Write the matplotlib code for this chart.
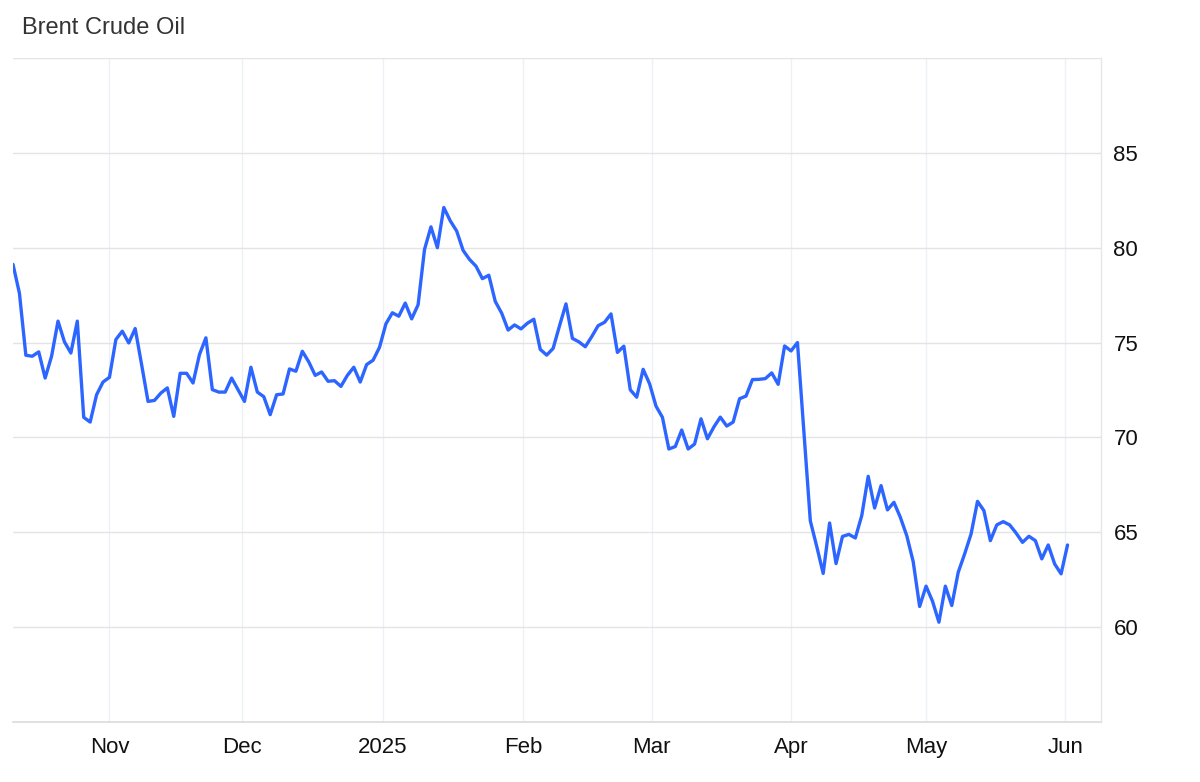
import numpy as np
import pandas as pd
import matplotlib
matplotlib.use("Agg")
import matplotlib.pyplot as plt

# ---- data ----
title = "Brent Crude Oil"
start_date = "2024-10-11"
end_date = "2025-06-02"
closed_days = ["2025-01-01", "2025-04-18"]

prices = [
    79.12, 77.60, 74.33, 74.28, 74.51, 73.13, 74.28, 76.13, 75.04, 74.45,
    76.13, 71.06, 70.81, 72.25, 72.92, 73.17, 75.16, 75.60, 74.98, 75.74,
    73.84, 71.90, 71.95, 72.34, 72.61, 71.11, 73.38, 73.38, 72.87, 74.37,
    75.25, 72.52, 72.39, 72.39, 73.13, 72.52, 71.90, 73.70, 72.39, 72.15,
    71.20, 72.25, 72.29, 73.61, 73.49, 74.54, 73.98, 73.27, 73.45, 72.96,
    72.99, 72.69, 73.27, 73.70, 72.92, 73.84, 74.07, 74.75, 75.99, 76.57,
    76.39, 77.08, 76.25, 76.99, 79.91, 81.10, 80.00, 82.12, 81.42, 80.88,
    79.86, 79.38, 79.03, 78.37, 78.55, 77.17, 76.55, 75.66, 75.93, 75.72,
    76.02, 76.23, 74.64, 74.34, 74.69, 75.89, 77.04, 75.22, 75.04, 74.78,
    75.31, 75.89, 76.07, 76.51, 74.48, 74.81, 72.51, 72.12, 73.59, 72.83,
    71.65, 71.06, 69.39, 69.52, 70.39, 69.39, 69.65, 70.98, 69.93, 70.55,
    71.07, 70.60, 70.81, 72.04, 72.18, 73.05, 73.06, 73.10, 73.40, 72.80,
    74.82, 74.56, 75.00, 70.30, 65.60, 64.25, 62.83, 65.49, 63.35, 64.78,
    64.89, 64.70, 65.88, 67.95, 66.28, 67.46, 66.18, 66.58, 65.79, 64.82,
    63.45, 61.09, 62.16, 61.37, 60.26, 62.16, 61.14, 62.89, 63.86, 64.91,
    66.63, 66.14, 64.56, 65.39, 65.56, 65.39, 64.96, 64.47, 64.79, 64.56,
    63.60, 64.33, 63.33, 62.81, 64.33,
]

month_labels = ["Nov", "Dec", "2025", "Feb", "Mar", "Apr", "May", "Jun"]
y_ticks = [55, 60, 65, 70, 75, 80, 85, 90]
y_labels = ["", "60", "65", "70", "75", "80", "85", ""]

# ---- dates / positions ----
dates = pd.bdate_range(start_date, end_date)
dates = dates[~dates.isin(pd.to_datetime(closed_days))]
dates = dates[: len(prices)]
x = np.arange(len(prices))

day_num = dates.values.astype("datetime64[D]").astype(float)
month_starts = pd.date_range("2024-11-01", periods=len(month_labels), freq="MS")
ms_num = month_starts.values.astype("datetime64[D]").astype(float)
tick_pos = np.interp(ms_num, day_num, x)

# ---- figure ----
W, H = 1200, 782
fig = plt.figure(figsize=(W / 100, H / 100), dpi=100)
fig.patch.set_facecolor("white")
left, right, top, bottom = 13, 1101, 58, 722
ax = fig.add_axes([left / W, 1 - bottom / H, (right - left) / W, (bottom - top) / H])

ax.plot(x, prices, color="#2c65ff", lw=2.4, solid_joinstyle="round",
        solid_capstyle="round", zorder=3)

ax.set_xlim(0, (right - left) / 6.43)
ax.set_ylim(55, 90)

ax.yaxis.tick_right()
ax.set_yticks(y_ticks)
ax.set_yticklabels(y_labels)
ax.set_xticks(tick_pos)
ax.set_xticklabels(month_labels)

for lab in ax.get_xticklabels() + ax.get_yticklabels():
    lab.set_fontfamily("Liberation Sans")
ax.tick_params(axis="both", length=0, labelsize=16, colors="#111111")
ax.tick_params(axis="y", pad=9)
ax.tick_params(axis="x", pad=11)

ax.grid(axis="y", color="#e4e4e4", lw=1.0, zorder=0)
ax.grid(axis="x", color="#edf0f5", lw=1.0, zorder=0)

for s in ["left", "top"]:
    ax.spines[s].set_visible(False)
ax.spines["right"].set_color("#e4e6ea")
ax.spines["bottom"].set_color("#dcdcdc")
ax.spines["right"].set_linewidth(1.0)
ax.spines["bottom"].set_linewidth(1.2)

fig.text(22 / W, 1 - 28 / H, title, fontsize=17, color="#333333",
         family="Liberation Sans", va="center", ha="left")

fig.savefig("out.png", dpi=100, facecolor="white")
